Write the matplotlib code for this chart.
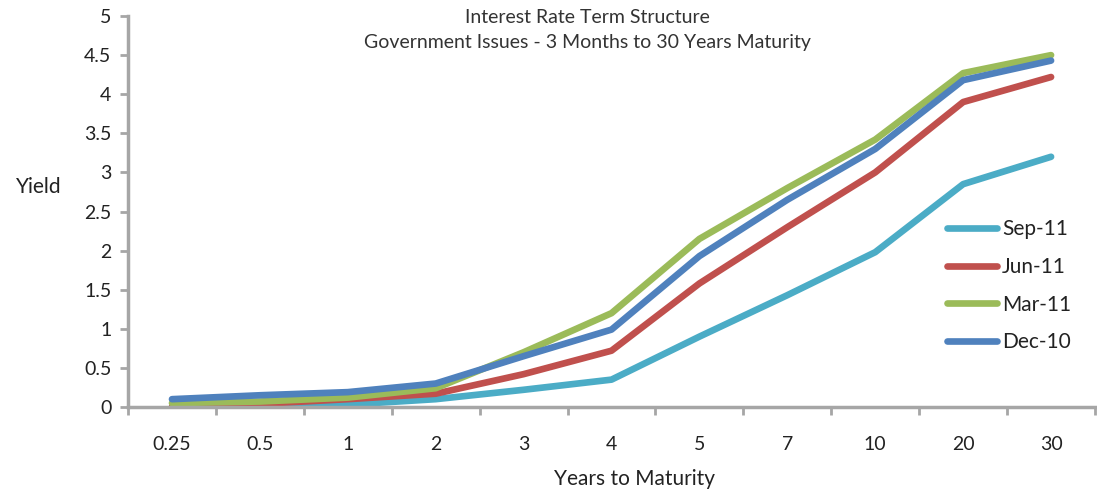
import matplotlib.pyplot as plt
import numpy as np

plt.rcParams['font.family'] = ['Lato', 'DejaVu Sans']

maturities = ['0.25', '0.5', '1', '2', '3', '4', '5', '7', '10', '20', '30']
sep_11 = [0.0, 0.01, 0.03, 0.10, 0.22, 0.35, 0.90, 1.43, 1.98, 2.85, 3.20]
jun_11 = [0.0, 0.04, 0.10, 0.17, 0.42, 0.72, 1.58, 2.30, 3.00, 3.90, 4.22]
mar_11 = [0.05, 0.07, 0.12, 0.24, 0.70, 1.20, 2.15, 2.80, 3.42, 4.27, 4.50]
dec_10 = [0.10, 0.15, 0.19, 0.30, 0.65, 0.99, 1.93, 2.65, 3.30, 4.18, 4.43]

series = [('Sep-11', sep_11, '#4BACC6'),
          ('Jun-11', jun_11, '#C0504D'),
          ('Mar-11', mar_11, '#9BBB59'),
          ('Dec-10', dec_10, '#4F81BD')]

fig = plt.figure(figsize=(10.97, 4.9), dpi=100)
ax = fig.add_axes([0.1167, 0.1694, 0.8815, 0.7979])

x = np.arange(len(maturities))
for name, vals, col in series:
    ax.plot(x, vals, color=col, lw=4.8, label=name, solid_capstyle='round')

# axes styling
axis_col = '#A6A6A6'
txt_col = '#222222'
ax.set_xlim(-0.5, len(maturities) - 0.5)
ax.set_ylim(0, 5)
ax.set_yticks(np.arange(0, 5.01, 0.5))
ax.set_yticklabels(['0', '0.5', '1', '1.5', '2', '2.5', '3', '3.5', '4', '4.5', '5'])
ax.set_xticks(x)
ax.set_xticklabels(maturities)
ax.set_xticks(np.arange(-0.5, len(maturities)), minor=True)
ax.tick_params(axis='x', which='major', length=0, pad=21, labelsize=14, colors=txt_col)
ax.tick_params(axis='x', which='minor', length=6, width=2, color=axis_col, direction='out')
ax.tick_params(axis='y', length=6, width=2, color=axis_col, labelsize=14, labelcolor=txt_col, pad=6)
for s in ['top', 'right']:
    ax.spines[s].set_visible(False)
for s in ['left', 'bottom']:
    ax.spines[s].set_color(axis_col)
    ax.spines[s].set_linewidth(2.5)

fig.text(587 / 1097, 1 - 9 / 490, 'Interest Rate Term Structure\nGovernment Issues - 3 Months to 30 Years Maturity',
         ha='center', va='top', fontsize=14, color='#333333', linespacing=1.55)

fig.text(39 / 1097, 1 - 187 / 490, 'Yield', ha='center', va='center', fontsize=15, color=txt_col)
fig.text(635 / 1097, 1 - 479 / 490, 'Years to Maturity', ha='center', va='center', fontsize=15,
         color=txt_col)

leg = ax.legend(loc='center left', bbox_to_anchor=(0.847, 0.31), frameon=False,
                fontsize=15, handlelength=2.4, handletextpad=0.25, labelspacing=0.85,
                borderaxespad=0, borderpad=0)
for t in leg.get_texts():
    t.set_color(txt_col)

fig.savefig('out.png', dpi=100)
